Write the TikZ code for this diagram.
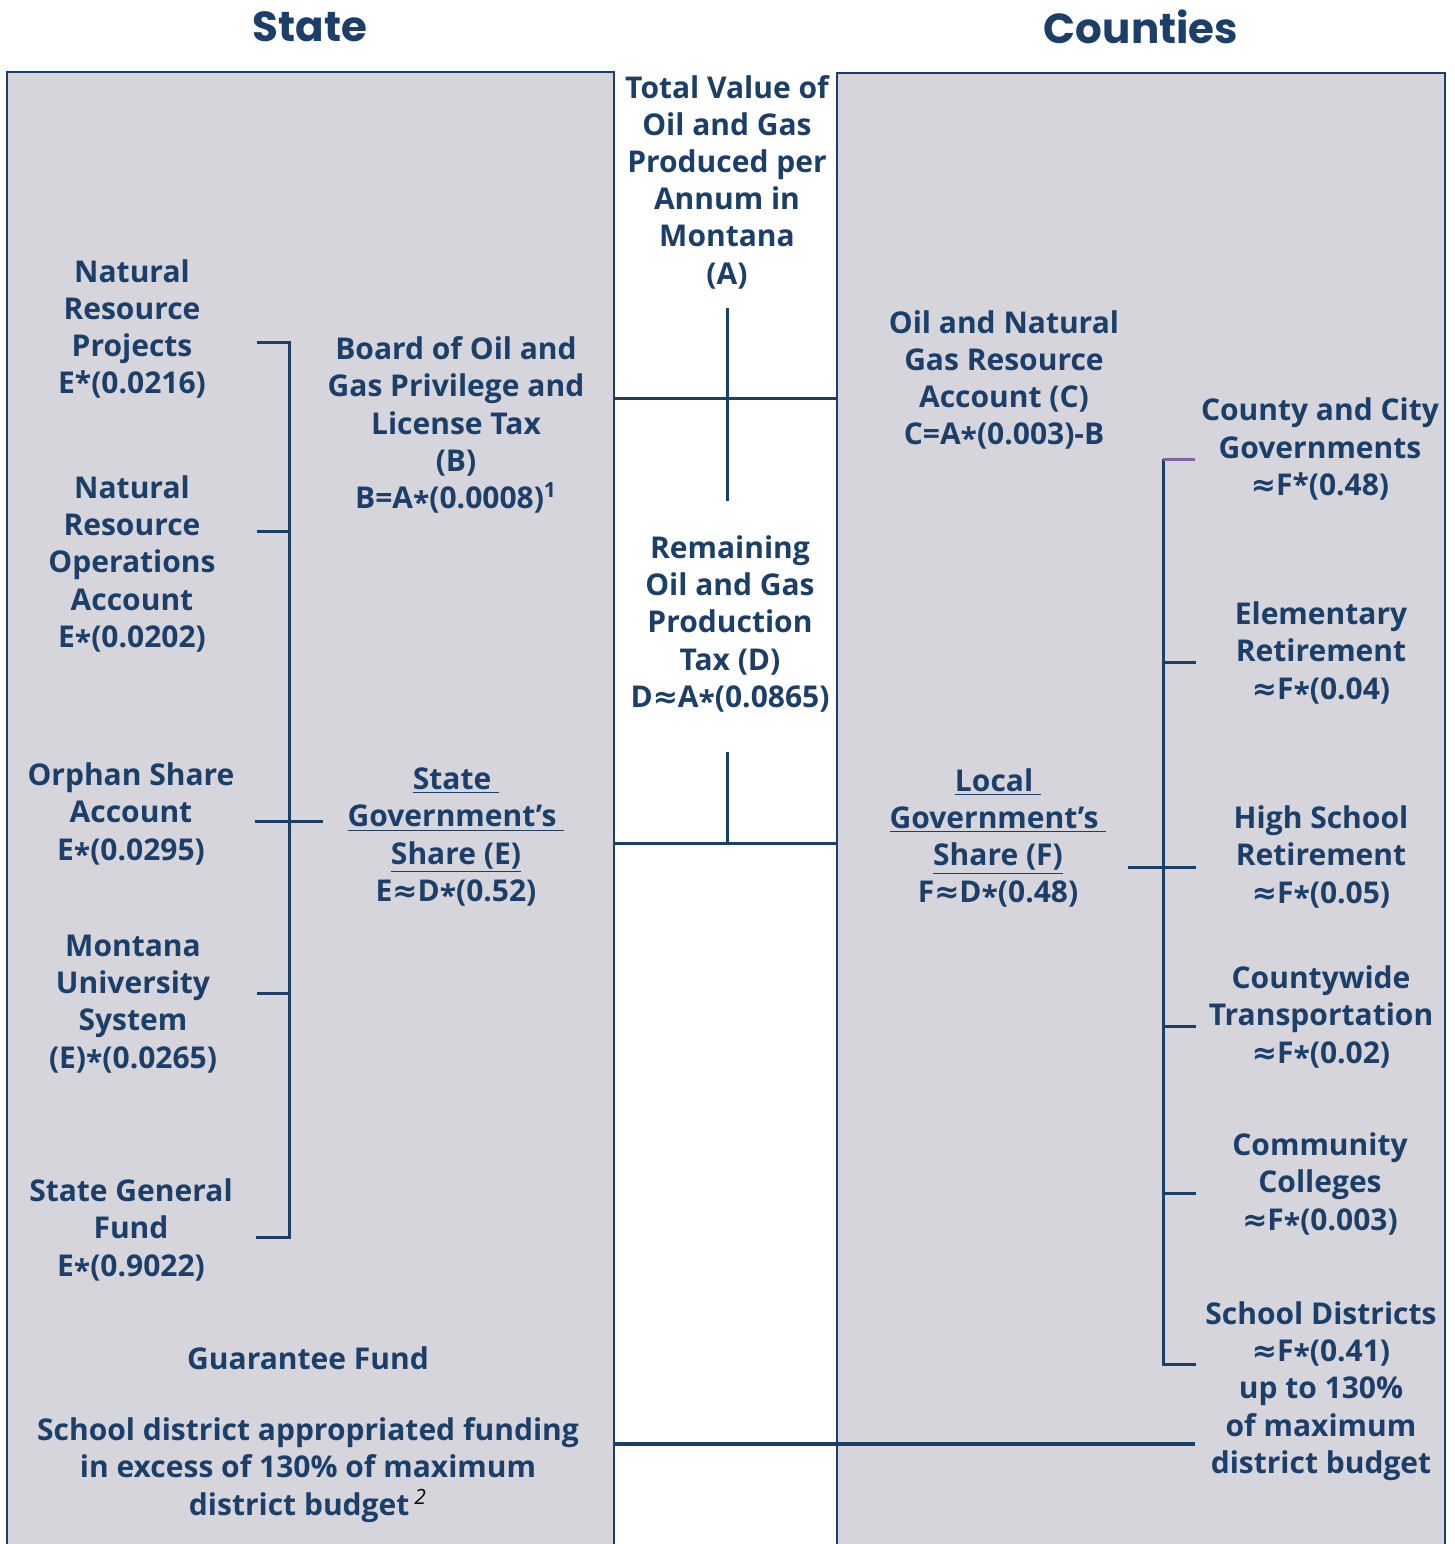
\documentclass[tikz,border=0pt]{standalone}
\usepackage{fontspec}
\setmainfont{Open Sans}
\newfontfamily\headfont{Poppins}
\newfontfamily\symfont{DejaVu Sans}
\usetikzlibrary{positioning}
\definecolor{navy}{HTML}{1B3F69}
\definecolor{panel}{HTML}{D6D5DC}
\definecolor{tickpurple}{HTML}{8064A2}
\newcommand{\midast}{\raisebox{-0.3ex}{*}}
\newcommand{\approxsym}{{\symfont\bfseries ≈}}

\begin{document}
\begin{tikzpicture}[x=0.5pt,y=-0.5pt,
  box/.style={text=navy,font=\bfseries\fontsize{15}{18.6}\selectfont,align=center,inner sep=0pt},
  head/.style={text=navy,font=\headfont\bfseries\fontsize{21}{25}\selectfont,inner sep=0pt},
  wire/.style={draw=navy,line width=1.5pt},
  frame/.style={draw=navy,line width=1pt}]
\useasboundingbox (0,0) rectangle (1455,1544);
\fill[panel] (7,72) rectangle (614,1544);
\fill[panel] (837,73) rectangle (1445,1544);
\draw[frame] (7,1544) -- (7,72) -- (614,72) -- (614,1544);
\draw[frame] (837,1544) -- (837,73) -- (1445,73) -- (1445,1544);

\node[head] (state) at (310,27) {State};
\node[head] (counties) at (1141,27) {Counties};

\node[box] (A) at (727,182) {Total Value of\\Oil and Gas\\Produced per\\Annum in\\Montana\\(A)};
\node[box] (B) at (456,425) {Board of Oil and\\Gas Privilege and\\License Tax\\(B)\\B=A\midast(0.0008)\textsuperscript{1}};
\node[box] (C) at (1004,380) {Oil and Natural\\Gas Resource\\Account (C)\\C=A\midast(0.003)-B};
\node[box] (D) at (730,624) {Remaining\\Oil and Gas\\Production\\Tax (D)\\D\approxsym A\midast(0.0865)};
\node[box] (E) at (456,837) {\underline{State~}\\\underline{Government’s~}\\\underline{Share (E)}\\E\approxsym D\midast(0.52)};
\node[box] (F) at (998,838) {\underline{Local~}\\\underline{Government’s~}\\\underline{Share (F)}\\F\approxsym D\midast(0.48)};

\node[box] (nrp) at (132,329) {Natural\\Resource\\Projects\\E*(0.0216)};
\node[box] (nroa) at (132,564) {Natural\\Resource\\Operations\\Account\\E\midast(0.0202)};
\node[box] (orphan) at (131,814) {Orphan Share\\Account\\E\midast(0.0295)};
\node[box] (mus) at (133,1004) {Montana\\University\\System\\(E)\midast(0.0265)};
\node[box] (sgf) at (131,1230) {State General\\Fund\\E\midast(0.9022)};

\node[box] (ccg) at (1320,449) {County and City\\Governments\\\approxsym F*(0.48)};
\node[box] (elem) at (1321,653) {Elementary\\Retirement\\\approxsym F\midast(0.04)};
\node[box] (high) at (1321,857) {High School\\Retirement\\\approxsym F\midast(0.05)};
\node[box] (trans) at (1321,1017) {Countywide\\Transportation\\\approxsym F\midast(0.02)};
\node[box] (cc) at (1320,1184) {Community\\Colleges\\\approxsym F\midast(0.003)};
\node[box] (sd) at (1321,1391) {School Districts\\\approxsym F\midast(0.41)\\up to 130\%\\of maximum\\district budget};

\node[box] (guar) at (308,1358) {Guarantee Fund};
\node[box] (excess) at (308,1470) {School district appropriated funding\\in excess of 130\% of maximum\\district budget\,{\color{black}\mdseries\itshape\textsuperscript{2}}};

\draw[wire] (727,308) -- (727,501);
\draw[wire] (727,752) -- (727,843);
\draw[wire] (614,398) -- (837,398);
\draw[wire] (614,843) -- (837,843);
\draw[navy,line width=2pt] (614,1444) -- (1195,1444);

\draw[wire] (257,342) -- (289,342) -- (289,1237) -- (256,1237);
\foreach \y in {531,993} \draw[wire] (257,\y) -- (289,\y);
\draw[wire] (255,821) -- (323,821);

\draw[wire] (1163,459) -- (1163,1364) -- (1196,1364);
\draw[tickpurple,line width=1.5pt] (1163,459) -- (1195,459);
\foreach \y in {662,1026,1193} \draw[wire] (1163,\y) -- (1196,\y);
\draw[wire] (1128,867) -- (1196,867);
\end{tikzpicture}
\end{document}
